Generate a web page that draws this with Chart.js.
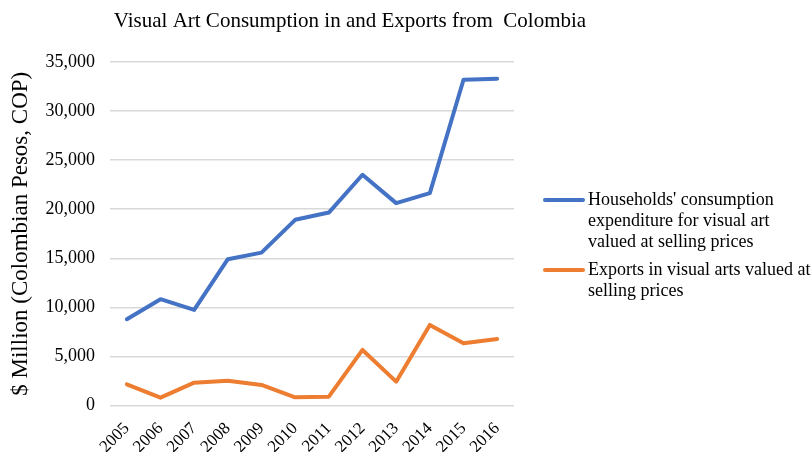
<!DOCTYPE html>
<html>
<head>
<meta charset="utf-8">
<script src="https://cdn.jsdelivr.net/npm/chart.js@4/dist/chart.umd.min.js"></script>
<style>
  html, body { margin: 0; padding: 0; background: #fff; }
  #wrap { position: relative; width: 812px; height: 452px; }
  #legend { position: absolute; left: 543px; top: 189px; width: 270px; font-family: "Liberation Serif", "Times New Roman", serif; font-size: 18px; color: #000; line-height: 21px; }
  .item { display: flex; align-items: flex-start; margin-bottom: 7px; }
  .txt { width: 224px; }
  .swatch { width: 42px; height: 4px; border-radius: 2px; margin-top: 9px; margin-right: 3px; flex: none; }
</style>
</head>
<body>
<div id="wrap">
  <canvas id="c" width="812" height="452"></canvas>
  <div id="legend"></div>
</div>
<script>
const chartTitle = "Visual Art Consumption in and Exports from  Colombia";
const yAxisTitle = "$ Million (Colombian Pesos, COP)";
const years = ["2005","2006","2007","2008","2009","2010","2011","2012","2013","2014","2015","2016"];
const seriesNames = [
  "Households' consumption expenditure for visual art valued at selling prices",
  "Exports in visual arts valued at selling prices"
];
const households = [8790, 10830, 9740, 14910, 15580, 18920, 19660, 23510, 20620, 21640, 33190, 33300];
const exportsArt = [2160, 800, 2330, 2530, 2090, 830, 900, 5660, 2430, 8210, 6340, 6780];
const colors = ["#4472C4", "#ED7D31"];

const serif = "'Liberation Serif', 'Times New Roman', serif";

const titlePlugin = {
  id: 'customTitle',
  afterDraw(chart) {
    const ctx = chart.ctx;
    ctx.save();
    ctx.font = "21px " + serif;
    ctx.fillStyle = "#000";
    ctx.textAlign = "center";
    ctx.textBaseline = "middle";
    ctx.fillText(chartTitle, 350, 21);
    ctx.restore();
  }
};

const chart = new Chart(document.getElementById('c'), {
  type: 'line',
  data: {
    labels: years,
    datasets: [
      { label: seriesNames[0], data: households, borderColor: colors[0], backgroundColor: colors[0], borderWidth: 4, pointRadius: 0, tension: 0, borderCapStyle: 'round', borderJoinStyle: 'round' },
      { label: seriesNames[1], data: exportsArt, borderColor: colors[1], backgroundColor: colors[1], borderWidth: 4, pointRadius: 0, tension: 0, borderCapStyle: 'round', borderJoinStyle: 'round' }
    ]
  },
  options: {
    responsive: false,
    animation: false,
    layout: { padding: { top: 62, right: 298, left: 0, bottom: 0 } },
    plugins: {
      legend: { display: false },
      title: { display: false },
      tooltip: { enabled: false }
    },
    scales: {
      x: {
        offset: true,
        grid: { display: false, drawTicks: false },
        border: { display: false },
        ticks: { font: { family: serif, size: 17 }, color: '#000', maxRotation: 45, minRotation: 45, padding: 13, autoSkip: false },
        afterFit(s) { s.height = 46.5; }
      },
      y: {
        min: 0, max: 35000,
        ticks: { stepSize: 5000, font: { family: serif, size: 18 }, color: '#000', padding: 15,
          callback: v => v.toLocaleString('en-US') },
        grid: { color: '#d9d9d9', lineWidth: 1.5, drawTicks: false },
        border: { display: false },
        title: { display: true, text: yAxisTitle, font: { family: serif, size: 23 }, color: '#000', padding: { top: 7, bottom: 0 } },
        afterFit(s) { s.width = 110; }
      }
    }
  },
  plugins: [titlePlugin]
});

const legend = document.getElementById('legend');
seriesNames.forEach((n, i) => {
  const d = document.createElement('div');
  d.className = 'item';
  d.innerHTML = '<span class="swatch" style="background:' + colors[i] + '"></span><span class="txt"></span>';
  d.lastChild.textContent = n;
  legend.appendChild(d);
});
</script>
</body>
</html>
